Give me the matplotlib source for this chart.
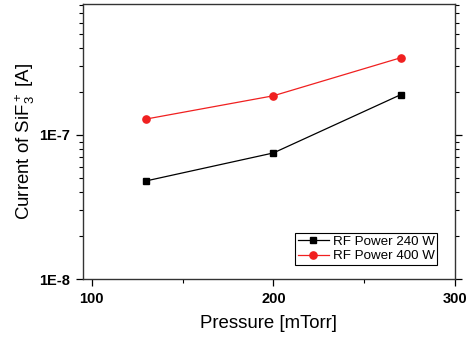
import matplotlib
matplotlib.use('Agg')
import matplotlib.pyplot as plt
from matplotlib.ticker import LogLocator, NullFormatter, FixedLocator

plt.rcParams['font.family'] = ['Liberation Sans', 'DejaVu Sans']
plt.rcParams['mathtext.fontset'] = 'custom'
plt.rcParams['mathtext.rm'] = 'Liberation Sans'
plt.rcParams['mathtext.it'] = 'Liberation Sans'

# data
pressure = [130, 200, 270]
current_240 = [4.8e-8, 7.5e-8, 1.9e-7]
current_400 = [1.29e-7, 1.87e-7, 3.43e-7]
x_ticks = [100, 200, 300]
y_ticks = [1e-8, 1e-7]
y_tick_labels = ['1E-8', '1E-7']

fig = plt.figure(figsize=(4.71, 3.37), dpi=100)
ax = fig.add_axes([0.1756, 0.172, 0.7904, 0.816])

ax.plot(pressure, current_240, color='black', marker='s', markersize=4.5,
        linewidth=0.9, label='RF Power 240 W')
ax.plot(pressure, current_400, color='#f02020', marker='o', markersize=5.2,
        linewidth=0.9, label='RF Power 400 W')

ax.set_yscale('log')
ax.set_xlim(95, 300)
ax.set_ylim(1e-8, 8.1e-7)

ax.set_xticks(x_ticks)
ax.xaxis.set_minor_locator(FixedLocator([150, 250]))
ax.set_yticks(y_ticks)
ax.set_yticklabels(y_tick_labels)
ax.yaxis.set_minor_locator(LogLocator(base=10, subs=range(2, 10)))
ax.yaxis.set_minor_formatter(NullFormatter())

for lab in ax.get_xticklabels() + ax.get_yticklabels():
    lab.set_fontweight('bold')
ax.tick_params(axis='both', which='major', labelsize=10.5, length=5, width=0.9,
               direction='out', right=True, pad=4)
ax.tick_params(axis='both', which='minor', length=3, width=0.8,
               direction='out', right=True)
for s in ax.spines.values():
    s.set_linewidth(1.0)
    s.set_color('#333333')

ax.set_xlabel('Pressure [mTorr]', fontsize=13.4, labelpad=7)
ax.set_ylabel('Current of SiF$_3^+$ [A]', fontsize=13.4, labelpad=2)

leg = ax.legend(loc='lower right', bbox_to_anchor=(0.952, 0.051),
                borderaxespad=0, fontsize=9.6, fancybox=False,
                edgecolor='black', framealpha=1, handlelength=2.3,
                borderpad=0.2, labelspacing=0.15, handletextpad=0.3)
leg.get_frame().set_linewidth(0.8)

fig.savefig('out.png', dpi=100)
